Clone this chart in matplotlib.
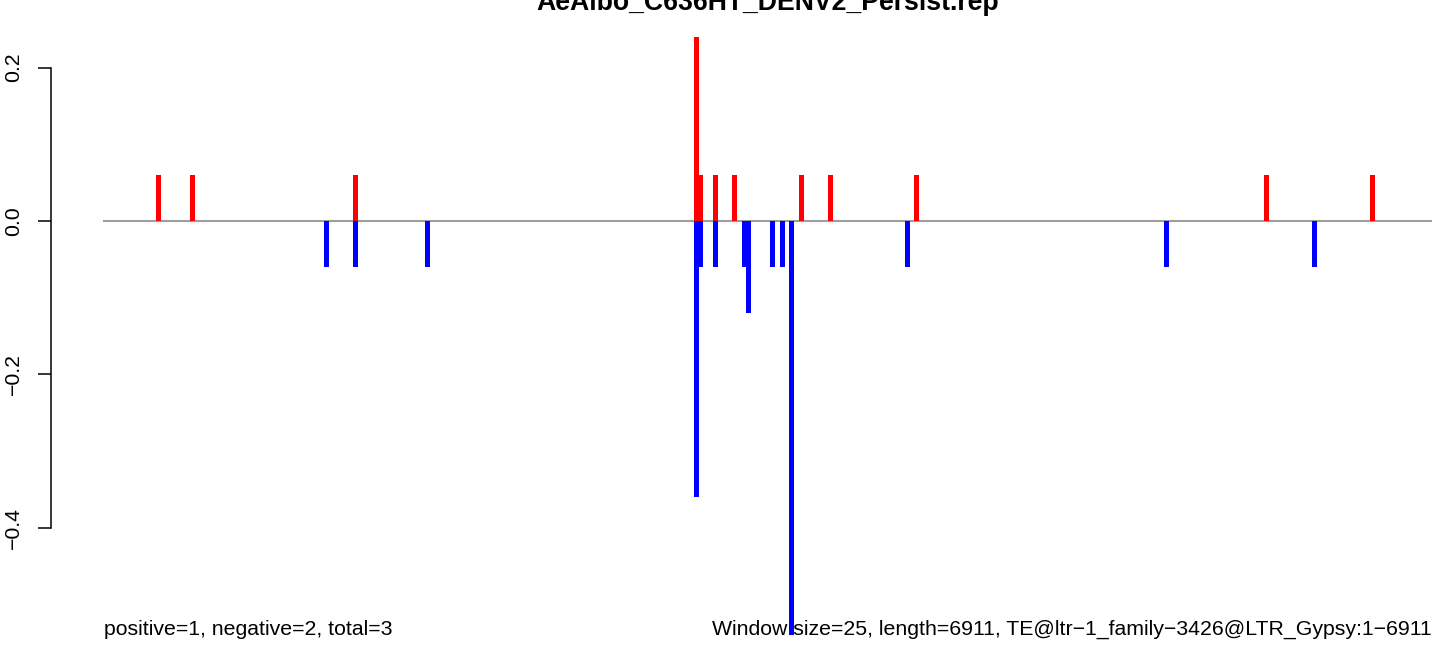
import matplotlib
matplotlib.use("Agg")
import matplotlib.pyplot as plt

plt.rcParams['font.family'] = ['Liberation Sans', 'DejaVu Sans']

title = "AeAlbo_C636HT_DENV2_Persist.rep"
seq_length = 6911
window_size = 25

# positive-strand (red) bars: position (bp), value
pos_x = [36, 227, 1142, 3057, 3082, 3164, 3270, 3647, 3810, 4292, 6258, 6853]
pos_y = [0.06, 0.06, 0.06, 0.24, 0.06, 0.06, 0.06, 0.06, 0.06, 0.06, 0.06, 0.06]

# negative-strand (blue) bars: position (bp), value
neg_x = [980, 1142, 1547, 3057, 3082, 3164, 3324, 3350, 3484, 3540, 3590, 4242, 5696, 6527]
neg_y = [-0.06, -0.06, -0.06, -0.36, -0.06, -0.06, -0.06, -0.12, -0.06, -0.06, -0.54, -0.06, -0.06, -0.06]

yticks = [-0.4, -0.2, 0.0, 0.2]
ytick_labels = ["\u22120.4", "\u22120.2", "0.0", "0.2"]

left_text = "positive=1, negative=2, total=3"
right_text = "Window size=25, length=6911, TE@ltr\u22121_family\u22123426@LTR_Gypsy:1\u22126911"

W, H = 1444, 656
fig = plt.figure(figsize=(W / 100, H / 100), dpi=100)
ax = fig.add_axes([103 / W, (H - 635) / H, (1432 - 103) / W, (635 - 37) / H])

bar_w = 27
ax.bar(pos_x, pos_y, width=bar_w, color="#FF0000", linewidth=0, zorder=2)
ax.bar(neg_x, neg_y, width=bar_w, color="#0000FF", linewidth=0, zorder=2)
ax.axhline(0, color="#9E9E9E", linewidth=1.5, zorder=1)

pad = 0.04 * (seq_length - 1)
ax.set_xlim(1 - pad, seq_length + pad)
ax.set_ylim(-0.54, 0.24)

for s in ["top", "right", "bottom"]:
    ax.spines[s].set_visible(False)
ax.spines["left"].set_position(("outward", 37.4))
ax.spines["left"].set_bounds(-0.4, 0.2)
ax.spines["left"].set_linewidth(1.1)
ax.set_xticks([])
ax.set_yticks(yticks)
ax.set_yticklabels(ytick_labels, rotation=90, va="center", fontsize=15.3)
ax.tick_params(axis="y", length=9.4, width=1.1, pad=11)

fig.text(0.5 * (103 + 1432) / W, 1 - 10 / H, title, ha="center", va="baseline",
         fontsize=19.2, fontweight="bold")
fig.text(104 / W, 1 - 635 / H, left_text, ha="left", va="baseline", fontsize=15.3)
fig.text(1432 / W, 1 - 635 / H, right_text, ha="right", va="baseline", fontsize=15.3)

fig.savefig("out.png", dpi=100)
